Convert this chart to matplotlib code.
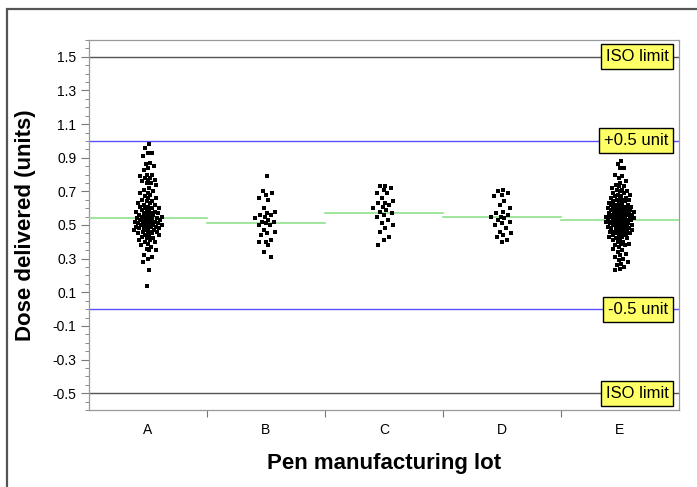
import matplotlib
matplotlib.use("Agg")
import matplotlib.pyplot as plt
from matplotlib.patches import Rectangle
from matplotlib.ticker import MultipleLocator, FixedLocator
import numpy as np

lots = ["A", "B", "C", "D", "E"]

lot_A = [0.98, 0.96, 0.93, 0.93, 0.91, 0.87, 0.86, 0.85, 0.84, 0.83, 0.80, 0.80, 0.79, 0.78, 0.78,
         0.77, 0.77, 0.76, 0.75, 0.75, 0.74, 0.72, 0.71, 0.70, 0.69, 0.69, 0.68, 0.67, 0.66, 0.66,
         0.65, 0.64, 0.64, 0.63, 0.63, 0.62, 0.62, 0.61, 0.61, 0.60, 0.60, 0.60, 0.59, 0.59, 0.58,
         0.58, 0.58, 0.57, 0.57, 0.57, 0.56, 0.56, 0.56, 0.55, 0.55, 0.55, 0.55, 0.54, 0.54, 0.54,
         0.54, 0.53, 0.53, 0.53, 0.53, 0.52, 0.52, 0.52, 0.52, 0.51, 0.51, 0.51, 0.51, 0.50, 0.50,
         0.50, 0.50, 0.50, 0.49, 0.49, 0.49, 0.49, 0.48, 0.48, 0.48, 0.48, 0.47, 0.47, 0.47, 0.46,
         0.46, 0.46, 0.45, 0.45, 0.45, 0.44, 0.44, 0.43, 0.43, 0.42, 0.42, 0.41, 0.41, 0.40, 0.40,
         0.39, 0.38, 0.37, 0.36, 0.35, 0.35, 0.32, 0.31, 0.30, 0.28, 0.23, 0.14]
lot_B = [0.79, 0.70, 0.69, 0.68, 0.66, 0.65, 0.60, 0.58, 0.57, 0.56, 0.56, 0.55, 0.54, 0.53, 0.52,
         0.52, 0.51, 0.50, 0.50, 0.47, 0.46, 0.45, 0.44, 0.41, 0.40, 0.40, 0.38, 0.34, 0.31]
lot_C = [0.73, 0.73, 0.72, 0.71, 0.69, 0.69, 0.66, 0.64, 0.63, 0.63, 0.62, 0.61, 0.60, 0.59, 0.58,
         0.57, 0.56, 0.55, 0.53, 0.51, 0.50, 0.48, 0.46, 0.43, 0.41, 0.38]
lot_D = [0.71, 0.70, 0.69, 0.68, 0.67, 0.64, 0.62, 0.60, 0.58, 0.57, 0.56, 0.55, 0.55, 0.54, 0.53,
         0.52, 0.51, 0.50, 0.48, 0.46, 0.45, 0.44, 0.43, 0.41, 0.40]
lot_E = [0.88, 0.86, 0.84, 0.84, 0.80, 0.79, 0.78, 0.76, 0.75, 0.74, 0.73, 0.73, 0.72, 0.71, 0.71,
         0.70, 0.70, 0.69, 0.69, 0.68, 0.68, 0.67, 0.67, 0.66, 0.66, 0.66, 0.65, 0.65, 0.65, 0.64,
         0.64, 0.64, 0.63, 0.63, 0.63, 0.62, 0.62, 0.62, 0.62, 0.61, 0.61, 0.61, 0.61, 0.60, 0.60,
         0.60, 0.60, 0.60, 0.59, 0.59, 0.59, 0.59, 0.58, 0.58, 0.58, 0.58, 0.58, 0.57, 0.57, 0.57,
         0.57, 0.57, 0.56, 0.56, 0.56, 0.56, 0.56, 0.55, 0.55, 0.55, 0.55, 0.55, 0.55, 0.54, 0.54,
         0.54, 0.54, 0.54, 0.53, 0.53, 0.53, 0.53, 0.53, 0.53, 0.52, 0.52, 0.52, 0.52, 0.52, 0.51,
         0.51, 0.51, 0.51, 0.51, 0.50, 0.50, 0.50, 0.50, 0.50, 0.49, 0.49, 0.49, 0.49, 0.48, 0.48,
         0.48, 0.48, 0.47, 0.47, 0.47, 0.47, 0.46, 0.46, 0.46, 0.46, 0.45, 0.45, 0.45, 0.44, 0.44,
         0.44, 0.43, 0.43, 0.43, 0.42, 0.42, 0.41, 0.41, 0.40, 0.40, 0.39, 0.39, 0.38, 0.38, 0.37,
         0.36, 0.35, 0.34, 0.33, 0.32, 0.31, 0.30, 0.29, 0.28, 0.27, 0.26, 0.25, 0.24, 0.23]
lot_values = [lot_A, lot_B, lot_C, lot_D, lot_E]
lot_means = [0.54, 0.51, 0.57, 0.545, 0.527]

ref_values = [1.5, 1.0, 0.0, -0.5]
ref_labels = ["ISO limit", "+0.5 unit", "-0.5 unit", "ISO limit"]
ref_colors = ["#555555", "#5a50ff", "#5a50ff", "#555555"]

y_ticks = [1.5, 1.3, 1.1, 0.9, 0.7, 0.5, 0.3, 0.1, -0.1, -0.3, -0.5]

plt.rcParams['font.family'] = ['Liberation Sans Narrow', 'Liberation Sans', 'DejaVu Sans']

W, H = 697, 487
fig = plt.figure(figsize=(W / 100, H / 100), dpi=100)
fig.patches.append(Rectangle((7 / W, -0.2), 1.5, 1.2 - 9 / H, transform=fig.transFigure,
                             fill=False, edgecolor="#555555", linewidth=1.6, zorder=-1))
ax = fig.add_axes([89 / W, 1 - 410 / H, (679 - 89) / W, (410 - 40) / H])
ax.set_xlim(-0.5, 4.5)
ax.set_ylim(-0.6, 1.6)

# deterministic density-scaled jitter (golden-ratio sequence), layout only
golden = 0.6180339887
max_half = 0.125
for i, vals in enumerate(lot_values):
    arr = np.asarray(vals)
    dens = np.array([np.sum(np.abs(arr - v) <= 0.04) for v in arr], dtype=float)
    scale = 0.15 + 0.85 * np.sqrt(dens / dens.max())
    half = max_half * (0.85 if len(vals) < 60 else 1.0)
    xs = []
    for k in range(len(vals)):
        u = 2 * (((k + 1) * golden) % 1.0 - 0.5)
        u = np.sign(u) * abs(u) ** 1.4
        xs.append(i + u * half * scale[k])
    ax.scatter(xs, vals, s=6.5, marker="s", color="black", linewidths=0, zorder=4)

for i, m in enumerate(lot_means):
    ax.plot([i - 0.5, i + 0.5], [m, m], color="#8fe08f", linewidth=1.2, zorder=3)

for v, lab, col in zip(ref_values, ref_labels, ref_colors):
    ax.axhline(v, color=col, linewidth=1.0, zorder=2)
    ax.text(4.41, v, lab, ha="right", va="center", fontsize=12, color="black",
            family=['Liberation Sans', 'DejaVu Sans'], zorder=6,
            bbox=dict(boxstyle="square,pad=0.3", facecolor="#ffff66", edgecolor="black", linewidth=1.0))

for s in ax.spines.values():
    s.set_color("#999999")
    s.set_linewidth(0.9)

ax.yaxis.set_major_locator(FixedLocator(y_ticks))
ax.set_yticklabels([f"{t:.1f}" for t in y_ticks])
ax.yaxis.set_minor_locator(MultipleLocator(0.05))
ax.tick_params(axis="y", which="major", length=6, width=0.8, color="#777777", labelsize=10, pad=3)
ax.tick_params(axis="y", which="minor", length=3, width=0.6, color="#777777")

ax.set_xticks(range(len(lots)))
ax.set_xticklabels(lots)
ax.set_xticks([0.5, 1.5, 2.5, 3.5], minor=True)
ax.tick_params(axis="x", which="major", length=0, labelsize=10, pad=9)
ax.tick_params(axis="x", which="minor", length=5, width=0.8, color="#777777")

ax.set_ylabel("Dose delivered (units)", fontsize=16, fontweight="bold",
              family=['Liberation Sans', 'DejaVu Sans'], labelpad=12)
ax.set_xlabel("Pen manufacturing lot", fontsize=16, fontweight="bold",
              family=['Liberation Sans', 'DejaVu Sans'], labelpad=12)

fig.savefig("out.png", dpi=100)
